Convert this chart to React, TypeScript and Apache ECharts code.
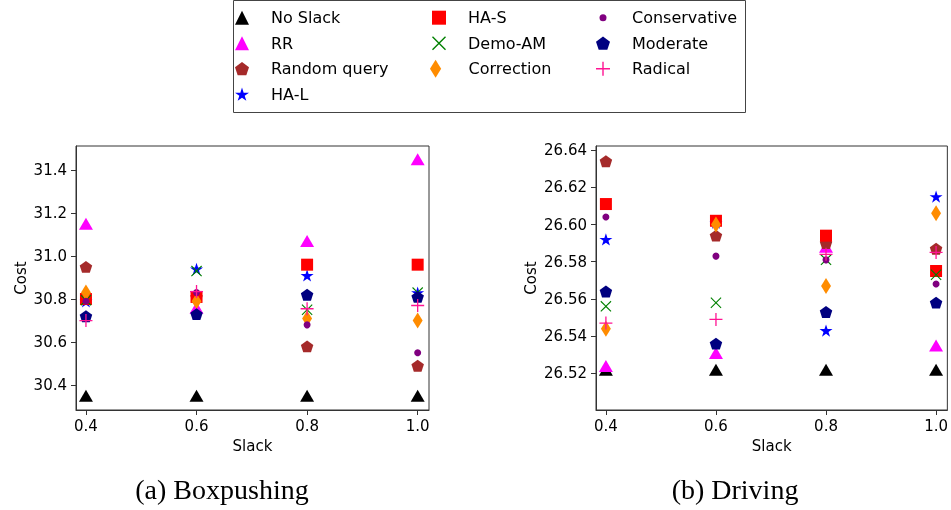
import React, { useEffect, useRef } from 'react';
import * as echarts from 'echarts';

// ---------- data ----------
const slack = [0.4, 0.6, 0.8, 1.0];
const seriesNames = ['No Slack', 'RR', 'Random query', 'HA-L', 'HA-S', 'Demo-AM', 'Correction', 'Conservative', 'Moderate', 'Radical'];

// (a) Boxpushing, values at slack 0.4, 0.6, 0.8, 1.0
const boxNoSlack = [30.35, 30.35, 30.35, 30.35];
const boxRR = [31.15, 30.76, 31.07, 31.45];
const boxRandomQuery = [30.95, 30.81, 30.58, 30.49];
const boxHAL = [30.79, 30.94, 30.91, 30.83];
const boxHAS = [30.80, 30.81, 30.96, 30.96];
const boxDemoAM = [30.795, 30.93, 30.75, 30.83];
const boxCorrection = [30.83, 30.79, 30.71, 30.70];
const boxConservative = [30.79, 30.83, 30.68, 30.55];
const boxModerate = [30.72, 30.73, 30.82, 30.81];
const boxRadical = [30.70, 30.835, 30.755, 30.77];

// (b) Driving
const drvNoSlack = [26.522, 26.522, 26.522, 26.522];
const drvRR = [26.524, 26.531, 26.588, 26.535];
const drvRandomQuery = [26.634, 26.594, 26.590, 26.587];
const drvHAL = [26.592, 26.601, 26.543, 26.615];
const drvHAS = [26.611, 26.602, 26.594, 26.575];
const drvDemoAM = [26.556, 26.558, 26.581, 26.573];
const drvCorrection = [26.544, 26.600, 26.567, 26.606];
const drvConservative = [26.604, 26.583, 26.581, 26.568];
const drvModerate = [26.564, 26.536, 26.553, 26.558];
const drvRadical = [26.547, 26.549, 26.584, 26.585];

const boxData = [boxNoSlack, boxRR, boxRandomQuery, boxHAL, boxHAS, boxDemoAM, boxCorrection, boxConservative, boxModerate, boxRadical];
const drvData = [drvNoSlack, drvRR, drvRandomQuery, drvHAL, drvHAS, drvDemoAM, drvCorrection, drvConservative, drvModerate, drvRadical];

const xTicks = [0.4, 0.6, 0.8, 1.0];
const boxTicks = [30.4, 30.6, 30.8, 31.0, 31.2, 31.4];
const drvTicks = [26.52, 26.54, 26.56, 26.58, 26.6, 26.62, 26.64];

const captions = ['(a) Boxpushing', '(b) Driving'];

// ---------- styles ----------
const FONT = 'DejaVu Sans';

const pentagonPath = 'path://M50,0 L97.55,34.55 L79.39,90.45 L20.61,90.45 L2.45,34.55 Z';
const starPath = (() => {
  const pts: string[] = [];
  for (let k = 0; k < 10; k++) {
    const r = k % 2 === 0 ? 50 : 19.1;
    const a = (-90 + k * 36) * Math.PI / 180;
    pts.push(`${(50 + r * Math.cos(a)).toFixed(2)},${(50 + r * Math.sin(a)).toFixed(2)}`);
  }
  return 'path://M' + pts.join(' L') + ' Z';
})();
const d = 7;
const xPath = `path://M${d},0 L50,${50 - d} L${100 - d},0 L100,${d} L${50 + d},50 L100,${100 - d} L${100 - d},100 L50,${50 + d} L${d},100 L0,${100 - d} L${50 - d},50 L0,${d} Z`;
const plusPath = 'path://M45,0 L55,0 L55,45 L100,45 L100,55 L55,55 L55,100 L45,100 L45,55 L0,55 L0,45 L45,45 Z';
const thinDiamond = 'path://M50,0 L81,50 L50,100 L19,50 Z';
const paddedDot = 'path://M0,0 M100,100 M25,50 A25,25 0 1 1 75,50 A25,25 0 1 1 25,50 Z';

const styleOf: Record<string, { color: string; symbol: string; size: any }> = {
  'No Slack': { color: '#000000', symbol: 'triangle', size: [14, 12] },
  'RR': { color: '#ff00ff', symbol: 'triangle', size: [14, 12] },
  'Random query': { color: '#a52a2a', symbol: pentagonPath, size: 12.5 },
  'HA-L': { color: '#0000ff', symbol: starPath, size: 13 },
  'HA-S': { color: '#ff0000', symbol: 'rect', size: 12 },
  'Demo-AM': { color: '#008000', symbol: xPath, size: 11 },
  'Correction': { color: '#ff8c00', symbol: thinDiamond, size: 16 },
  'Conservative': { color: '#800080', symbol: 'circle', size: 7 },
  'Moderate': { color: '#000080', symbol: pentagonPath, size: 12.5 },
  'Radical': { color: '#ff1493', symbol: plusPath, size: 13 },
};

const AXIS_COLOR = '#333';

function makeXAxis(gridIndex: number) {
  return {
    type: 'value', gridIndex, min: 0.382, max: 1.0205,
    name: 'Slack', nameLocation: 'middle', nameGap: 28,
    nameTextStyle: { fontSize: 15, fontFamily: FONT, color: '#000' },
    axisLine: { show: true, onZero: false, lineStyle: { color: AXIS_COLOR, width: 1 } },
    axisTick: { show: true, length: 5, customValues: xTicks, lineStyle: { color: AXIS_COLOR } },
    axisLabel: { customValues: xTicks, formatter: (v: number) => v.toFixed(1), fontSize: 15, fontFamily: FONT, color: '#000', margin: 8 },
    splitLine: { show: false },
  };
}

function makeYAxis(gridIndex: number, min: number, max: number, ticks: number[], digits: number, nameGap: number) {
  return {
    type: 'value', gridIndex, min, max,
    name: 'Cost', nameLocation: 'middle', nameGap,
    nameTextStyle: { fontSize: 15, fontFamily: FONT, color: '#000' },
    axisLine: { show: true, onZero: false, lineStyle: { color: AXIS_COLOR, width: 1 } },
    axisTick: { show: true, length: 5, customValues: ticks, lineStyle: { color: AXIS_COLOR } },
    axisLabel: { customValues: ticks, formatter: (v: number) => v.toFixed(digits), fontSize: 15, fontFamily: FONT, color: '#000', margin: 9 },
    splitLine: { show: false },
  };
}

function legendBlock(names: string[], iconCenterX: number, firstRowY: number, box: number, extraPad = 0) {
  const textStart = iconCenterX + 29;
  return {
    orient: 'vertical', left: iconCenterX - box / 2, top: firstRowY - 8 - (box > 16 ? (box - 16) / 2 : 0),
    padding: 0,
    itemWidth: box, itemHeight: box, itemGap: 9.5,
    symbolKeepAspect: true,
    selectedMode: false,
    data: names.map((n) => (n === 'Conservative' ? { name: n, icon: paddedDot } : n)),
    textStyle: { fontSize: 16, fontFamily: FONT, color: '#000', lineHeight: 16, padding: [0, 0, 0, textStart - (iconCenterX + box / 2 + 5) + extraPad] },
  };
}

export default function App() {
  const ref = useRef<HTMLDivElement>(null);
  useEffect(() => {
    if (!ref.current) return;
    const chart = echarts.init(ref.current, undefined, { renderer: 'svg' });
    const series: any[] = [];
    seriesNames.forEach((name, i) => {
      const st = styleOf[name];
      [boxData, drvData].forEach((ds, gi) => {
        series.push({
          type: 'scatter', name, xAxisIndex: gi, yAxisIndex: gi,
          data: slack.map((x, j) => [x, ds[i][j]]),
          symbol: st.symbol, symbolSize: st.size, symbolKeepAspect: true,
          itemStyle: { color: st.color, opacity: 1 },
          emphasis: { disabled: true },
        });
      });
    });
    const rowY = [17.7, 43.2, 68.7, 94.2];
    chart.setOption({
      animation: false,
      textStyle: { fontFamily: FONT },
      grid: [
        { left: 76, top: 146, width: 353, height: 264, show: true, borderColor: AXIS_COLOR, borderWidth: 1, backgroundColor: 'transparent' },
        { left: 596, top: 146, width: 353, height: 264, show: true, borderColor: AXIS_COLOR, borderWidth: 1, backgroundColor: 'transparent' },
      ],
      xAxis: [makeXAxis(0), makeXAxis(1)],
      yAxis: [
        makeYAxis(0, 30.284, 31.512, boxTicks, 1, 48),
        makeYAxis(1, 26.5003, 26.6422, drvTicks, 2, 58),
      ],
      legend: [
        legendBlock(seriesNames.slice(0, 4), 242, rowY[0], 14),
        legendBlock(seriesNames.slice(4, 6), 439, rowY[0], 14),
        legendBlock(seriesNames.slice(6, 7), 439, rowY[2], 18, 4),
        legendBlock(seriesNames.slice(7, 10), 603, rowY[0], 14),
      ],
      title: [
        { text: captions[0], left: 222, top: 475, textAlign: 'center', padding: 0, textStyle: { fontFamily: 'Liberation Serif', fontSize: 28, fontWeight: 'normal', color: '#000' } },
        { text: captions[1], left: 735, top: 475, textAlign: 'center', padding: 0, textStyle: { fontFamily: 'Liberation Serif', fontSize: 28, fontWeight: 'normal', color: '#000' } },
      ],
      graphic: [
        { type: 'rect', shape: { x: 233.5, y: 0.5, width: 512, height: 112 }, style: { fill: 'none', stroke: '#444', lineWidth: 1 }, silent: true },
      ],
      series,
    });
    return () => chart.dispose();
  }, []);
  return <div ref={ref} style={{ position: 'fixed', left: 0, top: 0, width: 951, height: 510 }} />;
}
